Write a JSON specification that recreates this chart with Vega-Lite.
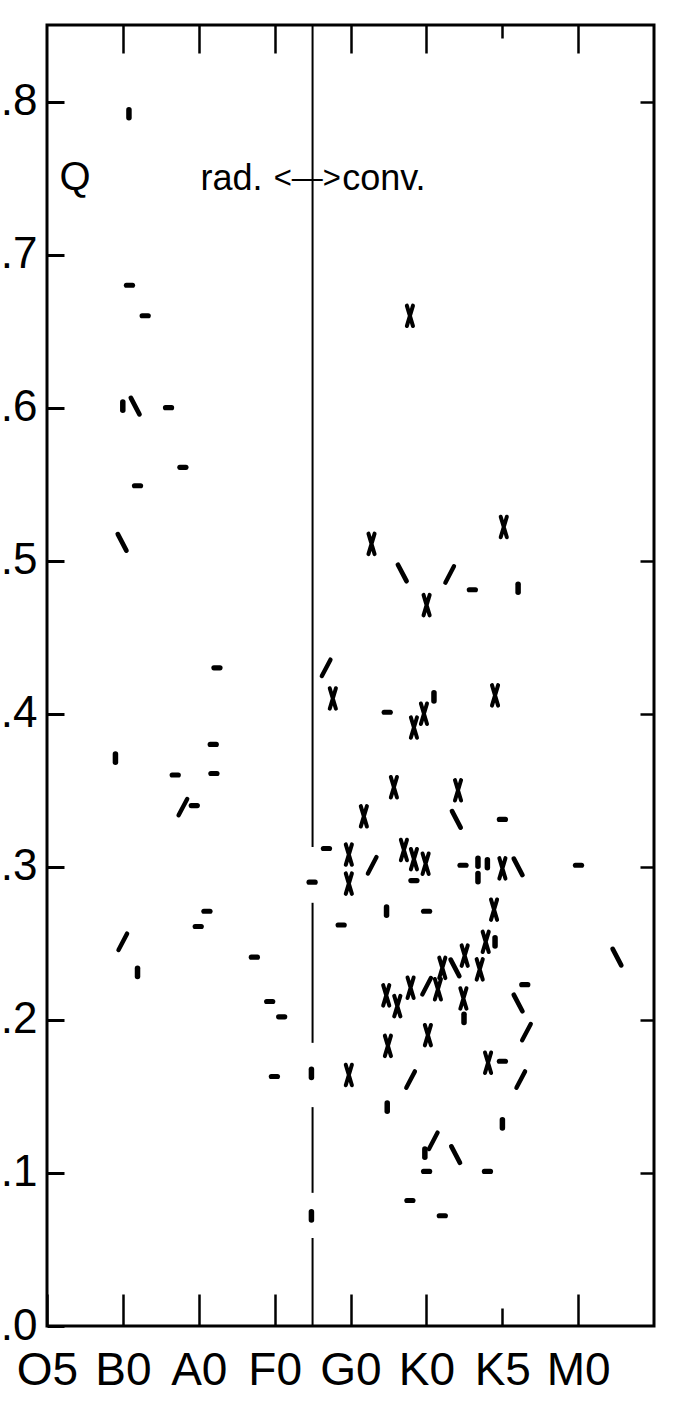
{
  "$schema": "https://vega.github.io/schema/vega-lite/v6.json",
  "width": 607,
  "height": 1301,
  "autosize": {"type": "none"},
  "padding": {"left": 47, "top": 25, "right": 24, "bottom": 96},
  "background": "white",
  "config": {
    "view": {"stroke": "black", "strokeWidth": 3},
    "axis": {"grid": false, "domain": false, "tickColor": "black", "tickWidth": 2.5, "labelColor": "black", "labelFont": "'Liberation Sans Narrow', 'Liberation Sans', sans-serif", "labelFontSize": 44}
  },
  "datasets": {
    "pts": [
      {"x": 1.08, "y": 0.792, "m": "dot"},
      {"x": 1.087, "y": 0.680, "m": "dash"},
      {"x": 1.294, "y": 0.660, "m": "dash"},
      {"x": 0.999, "y": 0.601, "m": "dot"},
      {"x": 1.162, "y": 0.601, "m": "bs"},
      {"x": 1.602, "y": 0.600, "m": "dash"},
      {"x": 1.791, "y": 0.561, "m": "dash"},
      {"x": 1.193, "y": 0.549, "m": "dash"},
      {"x": 0.990, "y": 0.512, "m": "bs"},
      {"x": 2.240, "y": 0.430, "m": "dash"},
      {"x": 2.191, "y": 0.380, "m": "dash"},
      {"x": 0.902, "y": 0.371, "m": "dot"},
      {"x": 1.690, "y": 0.360, "m": "dash"},
      {"x": 2.200, "y": 0.361, "m": "dash"},
      {"x": 1.791, "y": 0.339, "m": "sl"},
      {"x": 1.941, "y": 0.340, "m": "dash"},
      {"x": 2.108, "y": 0.271, "m": "dash"},
      {"x": 1.993, "y": 0.261, "m": "dash"},
      {"x": 0.999, "y": 0.251, "m": "sl"},
      {"x": 1.193, "y": 0.231, "m": "dot"},
      {"x": 2.733, "y": 0.241, "m": "dash"},
      {"x": 2.935, "y": 0.212, "m": "dash"},
      {"x": 3.093, "y": 0.202, "m": "dash"},
      {"x": 2.997, "y": 0.163, "m": "dash"},
      {"x": 3.494, "y": 0.290, "m": "dash"},
      {"x": 3.485, "y": 0.165, "m": "dot"},
      {"x": 3.485, "y": 0.072, "m": "dot"},
      {"x": 3.679, "y": 0.430, "m": "sl"},
      {"x": 3.767, "y": 0.410, "m": "x"},
      {"x": 3.683, "y": 0.312, "m": "dash"},
      {"x": 3.877, "y": 0.262, "m": "dash"},
      {"x": 4.277, "y": 0.511, "m": "x"},
      {"x": 4.682, "y": 0.492, "m": "bs"},
      {"x": 5.307, "y": 0.491, "m": "sl"},
      {"x": 6.020, "y": 0.522, "m": "x"},
      {"x": 5.606, "y": 0.481, "m": "dash"},
      {"x": 6.209, "y": 0.482, "m": "dot"},
      {"x": 5.003, "y": 0.471, "m": "x"},
      {"x": 4.484, "y": 0.401, "m": "dash"},
      {"x": 4.836, "y": 0.391, "m": "x"},
      {"x": 4.968, "y": 0.400, "m": "x"},
      {"x": 5.100, "y": 0.411, "m": "dot"},
      {"x": 5.905, "y": 0.412, "m": "x"},
      {"x": 4.783, "y": 0.660, "m": "x"},
      {"x": 4.572, "y": 0.352, "m": "x"},
      {"x": 5.417, "y": 0.350, "m": "x"},
      {"x": 4.176, "y": 0.333, "m": "x"},
      {"x": 5.395, "y": 0.331, "m": "bs"},
      {"x": 6.002, "y": 0.331, "m": "dash"},
      {"x": 3.978, "y": 0.308, "m": "x"},
      {"x": 4.286, "y": 0.301, "m": "sl"},
      {"x": 4.704, "y": 0.311, "m": "x"},
      {"x": 4.836, "y": 0.305, "m": "x"},
      {"x": 4.990, "y": 0.302, "m": "x"},
      {"x": 4.836, "y": 0.291, "m": "dash"},
      {"x": 5.483, "y": 0.301, "m": "dash"},
      {"x": 5.680, "y": 0.303, "m": "dot"},
      {"x": 5.680, "y": 0.293, "m": "dot"},
      {"x": 5.804, "y": 0.302, "m": "dot"},
      {"x": 6.002, "y": 0.299, "m": "x"},
      {"x": 6.209, "y": 0.300, "m": "bs"},
      {"x": 7.005, "y": 0.301, "m": "dash"},
      {"x": 3.978, "y": 0.289, "m": "x"},
      {"x": 4.475, "y": 0.271, "m": "dot"},
      {"x": 5.003, "y": 0.271, "m": "dash"},
      {"x": 5.892, "y": 0.272, "m": "x"},
      {"x": 5.782, "y": 0.251, "m": "x"},
      {"x": 5.905, "y": 0.251, "m": "dot"},
      {"x": 5.505, "y": 0.242, "m": "x"},
      {"x": 5.377, "y": 0.234, "m": "bs"},
      {"x": 5.210, "y": 0.234, "m": "x"},
      {"x": 5.703, "y": 0.233, "m": "x"},
      {"x": 7.512, "y": 0.241, "m": "bs"},
      {"x": 6.297, "y": 0.223, "m": "dash"},
      {"x": 4.471, "y": 0.216, "m": "x"},
      {"x": 4.617, "y": 0.209, "m": "x"},
      {"x": 4.792, "y": 0.221, "m": "x"},
      {"x": 5.003, "y": 0.222, "m": "sl"},
      {"x": 5.152, "y": 0.220, "m": "x"},
      {"x": 5.488, "y": 0.214, "m": "x"},
      {"x": 5.496, "y": 0.201, "m": "dot"},
      {"x": 6.209, "y": 0.211, "m": "bs"},
      {"x": 6.319, "y": 0.192, "m": "sl"},
      {"x": 4.493, "y": 0.183, "m": "x"},
      {"x": 5.020, "y": 0.190, "m": "x"},
      {"x": 3.978, "y": 0.164, "m": "x"},
      {"x": 4.792, "y": 0.161, "m": "sl"},
      {"x": 5.813, "y": 0.172, "m": "x"},
      {"x": 6.002, "y": 0.173, "m": "dash"},
      {"x": 6.244, "y": 0.161, "m": "sl"},
      {"x": 4.484, "y": 0.143, "m": "dot"},
      {"x": 6.002, "y": 0.132, "m": "dot"},
      {"x": 5.091, "y": 0.121, "m": "sl"},
      {"x": 4.980, "y": 0.113, "m": "dot"},
      {"x": 5.386, "y": 0.112, "m": "bs"},
      {"x": 5.003, "y": 0.101, "m": "dash"},
      {"x": 5.805, "y": 0.101, "m": "dash"},
      {"x": 4.783, "y": 0.082, "m": "dash"},
      {"x": 5.210, "y": 0.072, "m": "dash"}
    ],
    "line": [
      {"x": 3.5, "y": 0.85, "y2": 0.313},
      {"x": 3.5, "y": 0.2765, "y2": 0.185},
      {"x": 3.5, "y": 0.143, "y2": 0.087},
      {"x": 3.5, "y": 0.0575, "y2": 0}
    ],
    "txt": [
      {"x": 0.37, "y": 0.742, "t": "Q", "pos": "c"},
      {"x": 2.84, "y": 0.742, "t": "rad.", "pos": "r"},
      {"x": 3.43, "y": 0.742, "t": "<—>", "pos": "a"},
      {"x": 3.89, "y": 0.742, "t": "conv.", "pos": "l"}
    ]
  },
  "resolve": {"axis": {"x": "independent", "y": "independent"}},
  "layer": [
    {
      "data": {"name": "line"},
      "mark": {"type": "rule", "color": "black", "strokeWidth": 2},
      "encoding": {
        "x": {"field": "x", "type": "quantitative", "scale": {"domain": [0, 8], "nice": false, "zero": false},
              "axis": {"orient": "top", "values": [1, 2, 3, 4, 5, 6, 7], "labels": false, "title": null,
                       "tickSize": {"condition": {"test": "datum.value == 6", "value": -13}, "value": -28}}},
        "y": {"field": "y", "type": "quantitative", "scale": {"domain": [0, 0.85], "nice": false},
              "axis": {"orient": "right", "values": [0.1, 0.2, 0.3, 0.4, 0.5, 0.8], "labels": false, "title": null, "tickSize": -14}},
        "y2": {"field": "y2"}
      }
    },
    {
      "data": {"name": "pts"},
      "mark": {"type": "point", "filled": false, "stroke": "black", "color": "black", "strokeCap": "round", "size": 420, "opacity": 1},
      "encoding": {
        "x": {"field": "x", "type": "quantitative", "scale": {"domain": [0, 8], "nice": false, "zero": false},
              "axis": {"orient": "bottom", "values": [0, 1, 2, 3, 4, 5, 6, 7], "title": null, "labelFontSize": 46,
                       "labelExpr": "['O5','B0','A0','F0','G0','K0','K5','M0'][datum.value]",
                       "tickSize": {"condition": {"test": "datum.value == 6", "value": -18}, "value": -32},
                       "labelPadding": {"condition": {"test": "datum.value == 6", "value": 40}, "value": 54},
                       "labelBaseline": "top", "labelFlush": false, "labelOverlap": false, "labelBound": false}},
        "y": {"field": "y", "type": "quantitative", "scale": {"domain": [0, 0.85], "nice": false},
              "axis": {"orient": "left", "values": [0, 0.1, 0.2, 0.3, 0.4, 0.5, 0.6, 0.7, 0.8], "title": null,
                       "labelExpr": "replace(format(datum.value, '.1f'), '0.', '.')",
                       "offset": -17, "tickSize": 17, "tickWidth": 3, "labelPadding": 10, "labelFlush": false, "labelOverlap": false, "labelBound": false}},
        "shape": {"field": "m", "type": "nominal", "legend": null,
                  "scale": {"domain": ["dot", "dash", "bs", "sl", "x"],
                            "range": ["M0,-0.4L0,0.4", "M-0.3,0L0.3,0", "M-0.42,-0.8L0.42,0.8", "M-0.42,0.8L0.42,-0.8", "M-0.3,-1L0.3,1M0.3,-1L-0.3,1"]}},
        "strokeWidth": {"field": "m", "type": "ordinal", "legend": null,
                        "scale": {"domain": ["dot", "dash", "bs", "sl", "x"], "range": [5.5, 4, 3, 3, 3.2]}}
      }
    },
    {
      "data": {"name": "txt"},
      "transform": [{"filter": "datum.pos == 'c'"}],
      "mark": {"type": "text", "font": "'Liberation Sans Narrow', 'Liberation Sans', sans-serif", "fontSize": 40, "baseline": "alphabetic", "align": "center", "color": "black"},
      "encoding": {
        "x": {"field": "x", "type": "quantitative", "scale": {"domain": [0, 8], "nice": false, "zero": false}, "axis": null},
        "y": {"field": "y", "type": "quantitative", "scale": {"domain": [0, 0.85], "nice": false}, "axis": null},
        "text": {"field": "t"}
      }
    },
    {
      "data": {"name": "txt"},
      "transform": [{"filter": "datum.pos == 'r'"}],
      "mark": {"type": "text", "font": "'Liberation Sans Narrow', 'Liberation Sans', sans-serif", "fontSize": 36, "baseline": "alphabetic", "align": "right", "color": "black"},
      "encoding": {
        "x": {"field": "x", "type": "quantitative", "scale": {"domain": [0, 8], "nice": false, "zero": false}, "axis": null},
        "y": {"field": "y", "type": "quantitative", "scale": {"domain": [0, 0.85], "nice": false}, "axis": null},
        "text": {"field": "t"}
      }
    },
    {
      "data": {"name": "txt"},
      "transform": [{"filter": "datum.pos == 'a'"}],
      "mark": {"type": "text", "font": "'Liberation Sans Narrow', 'Liberation Sans', sans-serif", "fontSize": 31, "baseline": "alphabetic", "align": "center", "color": "black", "dy": -2},
      "encoding": {
        "x": {"field": "x", "type": "quantitative", "scale": {"domain": [0, 8], "nice": false, "zero": false}, "axis": null},
        "y": {"field": "y", "type": "quantitative", "scale": {"domain": [0, 0.85], "nice": false}, "axis": null},
        "text": {"field": "t"}
      }
    },
    {
      "data": {"name": "txt"},
      "transform": [{"filter": "datum.pos == 'l'"}],
      "mark": {"type": "text", "font": "'Liberation Sans Narrow', 'Liberation Sans', sans-serif", "fontSize": 36, "baseline": "alphabetic", "align": "left", "color": "black"},
      "encoding": {
        "x": {"field": "x", "type": "quantitative", "scale": {"domain": [0, 8], "nice": false, "zero": false}, "axis": null},
        "y": {"field": "y", "type": "quantitative", "scale": {"domain": [0, 0.85], "nice": false}, "axis": null},
        "text": {"field": "t"}
      }
    }
  ]
}
